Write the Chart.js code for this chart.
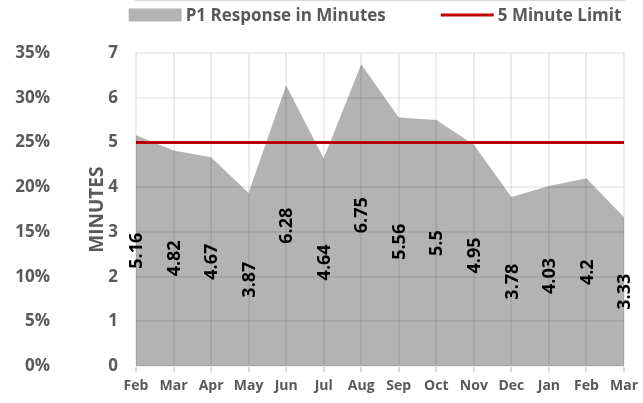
<!DOCTYPE html>
<html>
<head>
<meta charset="utf-8">
<script src="https://cdn.jsdelivr.net/npm/chart.js@4"></script>
<style>
  html, body { margin: 0; padding: 0; background: #fff; }
  #wrap { width: 643px; height: 403px; }
</style>
</head>
<body>
<div id="wrap"><canvas id="responseChart"></canvas></div>
<script>
const months = ['Feb', 'Mar', 'Apr', 'May', 'Jun', 'Jul', 'Aug', 'Sep', 'Oct', 'Nov', 'Dec', 'Jan', 'Feb', 'Mar'];
const responseMinutes = [5.16, 4.82, 4.67, 3.87, 6.28, 4.64, 6.75, 5.56, 5.5, 4.95, 3.78, 4.03, 4.2, 3.33];
const limitMinutes = [5, 5, 5, 5, 5, 5, 5, 5, 5, 5, 5, 5, 5, 5];
const minuteTicks = [0, 1, 2, 3, 4, 5, 6, 7];
const percentTicks = [0, 5, 10, 15, 20, 25, 30, 35];

const FONT = '"Open Sans", "Liberation Sans", sans-serif';
const GREY_TEXT = '#595959';

// value labels, rotated, centred half way up each point
const valueLabels = {
  id: 'valueLabels',
  afterDraw(chart) {
    const ctx = chart.ctx;
    const x = chart.scales.x;
    const y = chart.scales.y;
    ctx.save();
    ctx.fillStyle = '#000';
    ctx.font = 'bold 18px ' + FONT;
    ctx.textAlign = 'center';
    ctx.textBaseline = 'middle';
    responseMinutes.forEach((v, i) => {
      ctx.save();
      ctx.translate(x.getPixelForValue(i) + 1, y.getPixelForValue(v / 2));
      ctx.rotate(-Math.PI / 2);
      ctx.fillText(String(v), 0, 0);
      ctx.restore();
    });
    ctx.restore();
  }
};

// legend drawn by hand so the spacing matches Excel's
const topLegend = {
  id: 'topLegend',
  afterDraw(chart) {
    const ctx = chart.ctx;
    const sets = chart.data.datasets;
    const symW = 53, symGap = 4, itemGap = 55, cy = 15;
    ctx.save();
    ctx.font = 'bold 17px ' + FONT;
    ctx.textBaseline = 'middle';
    ctx.textAlign = 'left';
    const widths = sets.map(d => symW + symGap + ctx.measureText(d.label).width);
    const total = widths.reduce((a, b) => a + b, 0) + itemGap * (sets.length - 1);
    let x = (chart.chartArea.left + chart.chartArea.right) / 2 - total / 2 - 5;
    sets.forEach((d, i) => {
      if (d.fill) {
        ctx.fillStyle = d.backgroundColor;
        ctx.fillRect(x, cy - 6.5, symW, 13);
      } else {
        ctx.strokeStyle = d.borderColor;
        ctx.lineWidth = d.borderWidth;
        ctx.beginPath();
        ctx.moveTo(x, cy);
        ctx.lineTo(x + symW, cy);
        ctx.stroke();
      }
      ctx.fillStyle = GREY_TEXT;
      ctx.fillText(d.label, x + symW + symGap, cy + 1);
      x += widths[i] + itemGap;
    });
    ctx.restore();
  }
};

new Chart(document.getElementById('responseChart').getContext('2d'), {
  type: 'line',
  data: {
    labels: months,
    datasets: [{
      label: 'P1 Response in Minutes',
      data: responseMinutes,
      backgroundColor: '#b3b3b3',
      borderWidth: 0,
      pointRadius: 0,
      tension: 0,
      fill: 'origin',
      order: 2
    }, {
      label: '5 Minute Limit',
      data: limitMinutes,
      borderColor: '#c00000',
      backgroundColor: '#c00000',
      borderWidth: 3,
      pointRadius: 0,
      fill: false,
      order: 1
    }]
  },
  options: {
    responsive: true,
    maintainAspectRatio: false,
    animation: false,
    layout: { padding: { left: 8, right: 0, top: 53, bottom: 4 } },
    plugins: {
      tooltip: { enabled: false },
      legend: { display: false }
    },
    scales: {
      x: {
        offset: false,
        grid: {
          z: 1,
          color: 'rgba(0,0,0,0.07)',
          lineWidth: 2,
          tickColor: '#d9d9d9',
          tickLength: 6
        },
        border: { color: '#d9d9d9', width: 2 },
        ticks: {
          color: GREY_TEXT,
          maxRotation: 0,
          autoSkip: false,
          padding: 5,
          font: { family: FONT, size: 14, weight: 'bold' }
        }
      },
      y: {
        position: 'left',
        weight: 1,
        min: 0,
        max: 7,
        afterFit(axis) { axis.width = 86; },
        grid: {
          z: 1,
          color: 'rgba(0,0,0,0.07)',
          lineWidth: 2,
          drawTicks: false
        },
        border: { display: false },
        title: {
          display: true,
          text: 'MINUTES',
          color: GREY_TEXT,
          padding: { top: 36, bottom: 0 },
          font: { family: FONT, size: 19, weight: 'bold' }
        },
        afterBuildTicks(axis) {
          const t = [];
          minuteTicks.forEach((m, i) => {
            t.push({ value: m });
            if (i < minuteTicks.length - 1) t.push({ value: m + 0.5 });
          });
          axis.ticks = t;
        },
        ticks: {
          color: GREY_TEXT,
          padding: 18,
          font: { family: FONT, size: 17, weight: 'bold' },
          callback: v => (minuteTicks.includes(v) ? String(v) : '')
        }
      },
      pct: {
        position: 'left',
        weight: 2,
        min: 0,
        max: 35,
        afterFit(axis) { axis.width = 42; },
        grid: { display: false, drawTicks: false },
        border: { display: false },
        afterBuildTicks(axis) {
          axis.ticks = percentTicks.map(p => ({ value: p }));
        },
        ticks: {
          color: GREY_TEXT,
          padding: 0,
          font: { family: FONT, size: 17, weight: 'bold' },
          callback: v => v + '%'
        }
      }
    }
  },
  plugins: [valueLabels, topLegend]
});
</script>
</body>
</html>
